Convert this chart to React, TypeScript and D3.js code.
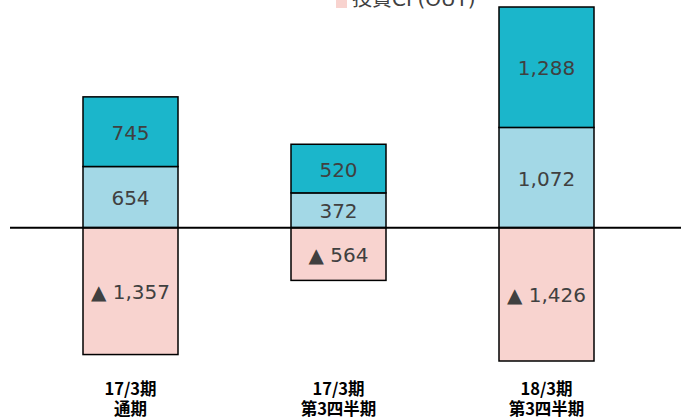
import React from "react";
import * as d3 from "d3";

const categoryLines: string[][] = [
  ["17/3期", "通期"],
  ["17/3期", "第3四半期"],
  ["18/3期", "第3四半期"],
];
const categories = ["fy17", "q3fy17", "q3fy18"];
// lower positive segment (light blue)
const lowerValues = [654, 372, 1072];
// upper positive segment (teal)
const upperValues = [745, 520, 1288];
// investing cash flow (out), negative
const investOutValues = [-1357, -564, -1426];
const legendLabel = "投資CF(OUT)";

const W = 681;
const H = 420;
const COLORS = { upper: "#1bb6cb", lower: "#a3d8e6", invest: "#f8d3cf" };
const LATIN = "'DejaVu Sans', Verdana, 'Noto Sans CJK JP', sans-serif";
const CJK = "'Noto Sans CJK JP', sans-serif";

const fmt = d3.format(",");

export default function App() {
  const y = d3.scaleLinear().domain([-1426, 2360]).range([361, 7]);
  const x = d3.scalePoint<string>().domain(categories).range([130.5, 546.5]);
  const bw = 95;

  const bars = categories.map((c, i) => ({
    c,
    i,
    cx: x(c)!,
    lo: lowerValues[i],
    up: upperValues[i],
    neg: investOutValues[i],
  }));

  const valueText = (key: string, cx: number, cy: number, label: string) => (
    <text
      key={key}
      x={cx}
      y={cy}
      dy="0.4em"
      textAnchor="middle"
      fontFamily={LATIN}
      fontSize={20}
      fill="#404040"
    >
      {label}
    </text>
  );

  return (
    <svg
      width={W}
      height={H}
      style={{ position: "absolute", left: 0, top: 0, display: "block", background: "#fff" }}
    >
      {/* legend, partly above the visible area */}
      <rect x={336} y={-4} width={11} height={12} fill={COLORS.invest} />
      <text x={352} y={6} fontFamily={LATIN} fontSize={20} fill="#404040">
        {legendLabel}
      </text>

      {bars.map((b) => (
        <g key={b.c}>
          <rect
            x={b.cx - bw / 2}
            y={y(b.lo)}
            width={bw}
            height={y(0) - y(b.lo)}
            fill={COLORS.lower}
            stroke="#000"
            strokeWidth={1.5}
          />
          <rect
            x={b.cx - bw / 2}
            y={y(b.lo + b.up)}
            width={bw}
            height={y(b.lo) - y(b.lo + b.up)}
            fill={COLORS.upper}
            stroke="#000"
            strokeWidth={1.5}
          />
          <rect
            x={b.cx - bw / 2}
            y={y(0)}
            width={bw}
            height={y(b.neg) - y(0)}
            fill={COLORS.invest}
            stroke="#000"
            strokeWidth={1.5}
          />
          {valueText("lo", b.cx, (y(0) + y(b.lo)) / 2, fmt(b.lo))}
          {valueText("up", b.cx, (y(b.lo) + y(b.lo + b.up)) / 2, fmt(b.up))}
          {valueText("neg", b.cx, (y(0) + y(b.neg)) / 2, "▲ " + fmt(-b.neg))}
          {categoryLines[b.i].map((line, k) => (
            <text
              key={k}
              x={b.cx}
              y={395 + k * 20}
              textAnchor="middle"
              fontFamily={CJK}
              fontWeight="bold"
              fontSize={16.5}
              fill="#000"
            >
              {line}
            </text>
          ))}
        </g>
      ))}

      {/* zero line */}
      <line x1={10} x2={W} y1={y(0)} y2={y(0)} stroke="#000" strokeWidth={2} />
    </svg>
  );
}
